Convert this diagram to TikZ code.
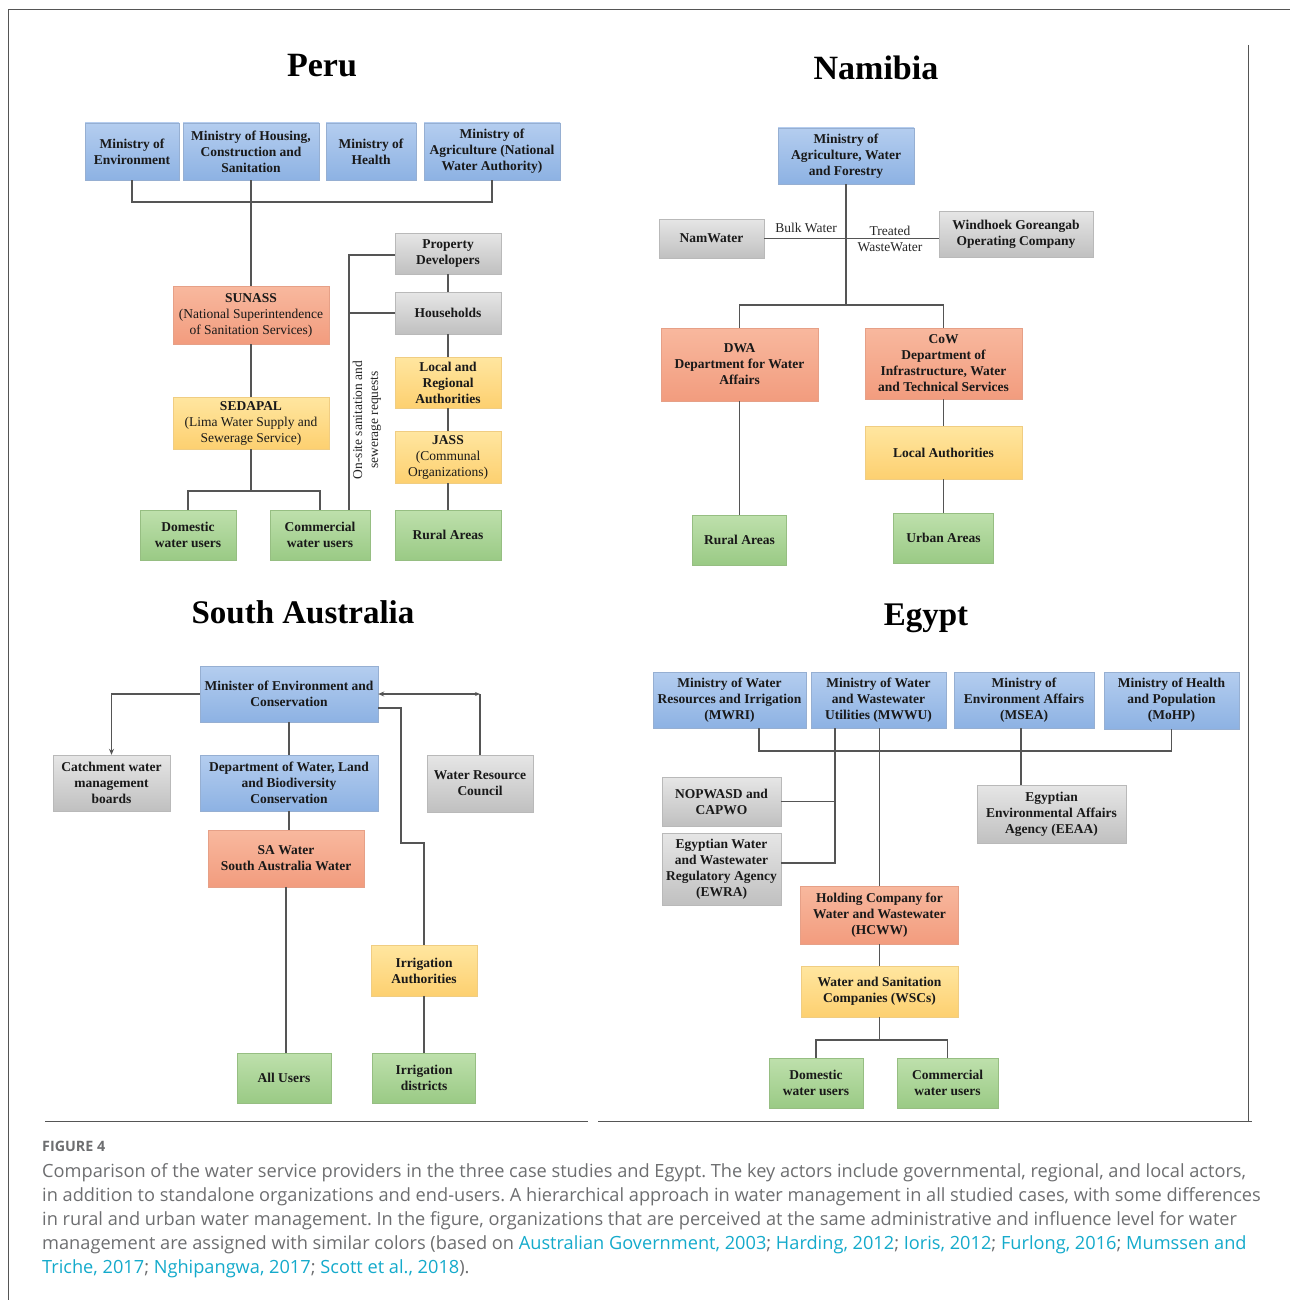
\documentclass[tikz,border=0pt]{standalone}
\usepackage{fontspec}
\setmainfont{Liberation Serif}
\newfontfamily\capfont{Open Sans}
\usetikzlibrary{arrows.meta}
\frenchspacing

\definecolor{capgray}{HTML}{6D6E70}
\definecolor{linkcyan}{HTML}{14AACB}
\definecolor{linegray}{HTML}{555555}
\definecolor{blutop}{RGB}{180,205,239}
\definecolor{blubot}{RGB}{141,178,227}
\definecolor{bluedge}{RGB}{150,175,210}
\definecolor{orgtop}{RGB}{248,184,158}
\definecolor{orgbot}{RGB}{242,156,126}
\definecolor{orgedge}{RGB}{230,160,135}
\definecolor{ylwtop}{RGB}{255,230,160}
\definecolor{ylwbot}{RGB}{253,208,112}
\definecolor{ylwedge}{RGB}{240,205,130}
\definecolor{grytop}{RGB}{230,230,230}
\definecolor{grybot}{RGB}{192,192,192}
\definecolor{gryedge}{RGB}{185,185,185}
\definecolor{grntop}{RGB}{190,224,172}
\definecolor{grnbot}{RGB}{154,202,133}
\definecolor{grnedge}{RGB}{150,190,130}

\begin{document}
\begin{tikzpicture}[x=1pt, y=-1pt,
  box/.style={draw, align=center, inner sep=1pt, text=black!90, font=\fontsize{13.5}{16}\selectfont\bfseries},
  blubox/.style={box, top color=blutop, bottom color=blubot, draw=bluedge},
  orgbox/.style={box, top color=orgtop, bottom color=orgbot, draw=orgedge},
  ylwbox/.style={box, top color=ylwtop, bottom color=ylwbot, draw=ylwedge},
  grybox/.style={box, top color=grytop, bottom color=grybot, draw=gryedge},
  grnbox/.style={box, top color=grntop, bottom color=grnbot, draw=grnedge},
  link/.style={draw=linegray, line width=1.2pt},
  frame/.style={draw=linegray, line width=1pt},
  title/.style={font=\fontsize{34}{40}\selectfont\bfseries},
  note/.style={font=\fontsize{13.5}{16}\selectfont, text=black!85, inner sep=1pt},
  capline/.style={anchor=base west, inner sep=0pt, text=capgray, font=\capfont\fontsize{18.2}{24}\selectfont}]

\useasboundingbox (0,0) rectangle (1290,1300);

% frame
\draw[frame] (8,1300) -- (8,10) -- (1290,10);
\draw[frame] (1248,45) -- (1248,1122);
\draw[frame] (45,1121) -- (588,1121);
\draw[frame] (598,1121) -- (1252,1121);

% Peru
\begin{scope}
\node[title] (tperu) at (322,66) {Peru};

\node[blubox, minimum width=94pt, minimum height=57pt] (mEnv) at (132,151.5) {Ministry of\\Environment};
\node[blubox, minimum width=136pt, minimum height=57pt] (mHous) at (251,151.5) {Ministry of Housing,\\Construction and\\Sanitation};
\node[blubox, minimum width=90pt, minimum height=57pt] (mHlth) at (371,151.5) {Ministry of\\Health};
\node[blubox, minimum width=136pt, minimum height=57pt] (mAgri) at (492,151.5) {Ministry of\\Agriculture (National\\Water Authority)};

\node[orgbox, minimum width=156pt, minimum height=58pt] (sunass) at (251,315) {SUNASS\\\mdseries(National Superintendence\\\mdseries of Sanitation Services)};
\node[ylwbox, minimum width=156pt, minimum height=52pt] (sedapal) at (251,423) {SEDAPAL\\\mdseries(Lima Water Supply and\\\mdseries Sewerage Service)};
\node[grnbox, minimum width=96pt, minimum height=50pt] (pdom) at (188,535) {Domestic\\water users};
\node[grnbox, minimum width=100pt, minimum height=50pt] (pcom) at (320,535) {Commercial\\water users};

\node[grybox, minimum width=106pt, minimum height=41pt] (propdev) at (448,253.5) {Property\\Developers};
\node[grybox, minimum width=106pt, minimum height=42pt] (hhold) at (448,313) {Households};
\node[ylwbox, minimum width=106pt, minimum height=51pt] (lrauth) at (448,382.5) {Local and\\Regional\\Authorities};
\node[ylwbox, minimum width=106pt, minimum height=52pt] (jass) at (448,457) {JASS\\\mdseries(Communal\\\mdseries Organizations)};
\node[grnbox, minimum width=106pt, minimum height=50pt] (prural) at (448,535) {Rural Areas};

\coordinate (pbus) at (251,202);
\coordinate (pfork) at (251,491);
\coordinate (onsite) at (349,255);

\draw[link] (mEnv.south) |- (pbus) -| (mAgri.south);
\draw[link] (mHous.south) -- (sunass.north);
\draw[link] (sunass.south) -- (sedapal.north);
\draw[link] (sedapal.south) -- (pfork);
\draw[link] (pdom.north) |- (pfork) -| (pcom.north);
\draw[link] (pcom.north -| onsite) -- (onsite) -- (onsite -| propdev.west);
\draw[link] (hhold.west) -- (hhold.west -| onsite);
\draw[link] (propdev) -- (hhold) -- (lrauth) -- (jass) -- (prural);
\node[note, rotate=90, align=center] (reqs) at (367,420) {On-site sanitation and\\sewerage requests};
\end{scope}

% Namibia
\begin{scope}
\node[title] (tnam) at (876,68) {Namibia};

\node[blubox, minimum width=136pt, minimum height=56pt] (mawf) at (846,156) {Ministry of\\Agriculture, Water\\and Forestry};
\node[grybox, minimum width=105pt, minimum height=39pt] (namw) at (711.5,238.5) {NamWater};
\node[grybox, minimum width=154pt, minimum height=46pt] (wgoc) at (1016,234) {Windhoek Goreangab\\Operating Company};
\node[orgbox, minimum width=157pt, minimum height=73pt] (dwa) at (739.5,364.5) {DWA\\Department for Water\\Affairs};
\node[orgbox, minimum width=157pt, minimum height=71pt] (cow) at (943.5,363.5) {CoW\\Department of\\Infrastructure, Water\\and Technical Services};
\node[ylwbox, minimum width=157pt, minimum height=53pt] (nlocal) at (943.5,452.5) {Local Authorities};
\node[grnbox, minimum width=94pt, minimum height=50pt] (nrural) at (739.5,540) {Rural Areas};
\node[grnbox, minimum width=100pt, minimum height=50pt] (nurban) at (943.5,538) {Urban Areas};

\coordinate (nbus) at (846,305);

\draw[link] (mawf.south) -- (nbus);
\draw[link] (dwa.north) |- (nbus) -| (cow.north);
\draw[link] (namw.east) -- (namw.east -| nbus);
\draw[link] (wgoc.west |- namw.east) -- (namw.east -| nbus);
\draw[link] (dwa.south) -- (nrural.north);
\draw[link] (cow.south) -- (nlocal.north);
\draw[link] (nlocal.south) -- (nurban.north);
\node[note] (bulk) at (806,228) {Bulk Water};
\node[note] (treat) at (890,231) {Treated};
\node[note] (waste) at (890,247) {WasteWater};
\end{scope}

% South Australia
\begin{scope}
\node[title, font=\fontsize{33}{40}\selectfont\bfseries] (tsa) at (303,612) {South Australia};

\node[blubox, minimum width=178pt, minimum height=56pt] (mec) at (289,694) {Minister of Environment and\\Conservation};
\node[grybox, minimum width=117pt, minimum height=56pt] (cwmb) at (111.5,783) {Catchment water\\management\\boards};
\node[blubox, minimum width=178pt, minimum height=56pt] (dwlbc) at (289,783) {Department of Water, Land\\and Biodiversity\\Conservation};
\node[grybox, minimum width=106pt, minimum height=57pt] (wrc) at (480,783.5) {Water Resource\\Council};
\node[orgbox, minimum width=156pt, minimum height=57pt] (sawat) at (286,858.5) {SA Water\\South Australia Water};
\node[ylwbox, minimum width=106pt, minimum height=51pt] (irra) at (424,970.5) {Irrigation\\Authorities};
\node[grnbox, minimum width=94pt, minimum height=50pt] (allu) at (284,1078) {All Users};
\node[grnbox, minimum width=103pt, minimum height=50pt] (irrd) at (424,1078) {Irrigation\\districts};

\coordinate (sa1) at (401,708);
\coordinate (sa2) at (424,843);

\draw[link, -{Stealth[length=6pt, width=5pt]}] (mec.west) -| (cwmb.north);
\draw[link, {Stealth[length=6pt, width=5pt]}-{Stealth[length=5pt, width=4pt]}] (mec.east) -- (mec.east -| wrc.north);
\draw[link] (wrc.north) -- (mec.east -| wrc.north);
\draw[link] (mec.south) -- (dwlbc.north);
\draw[link] (dwlbc.south) -- (dwlbc.south |- sawat.north);
\draw[link] (sawat.south) -- (sawat.south |- allu.north);
\draw[link] (mec.east |- sa1) -- (sa1) |- (sa2) -- (irra.north);
\draw[link] (irra.south) -- (irrd.north);
\end{scope}

% Egypt
\begin{scope}
\node[title, font=\fontsize{33}{40}\selectfont\bfseries] (tegy) at (926,618) {Egypt};

\node[blubox, minimum width=153pt, minimum height=56pt] (mwri) at (729.5,700) {Ministry of Water\\Resources and Irrigation\\(MWRI)};
\node[blubox, minimum width=135pt, minimum height=56pt] (mwwu) at (878.5,700) {Ministry of Water\\and Wastewater\\Utilities (MWWU)};
\node[blubox, minimum width=140pt, minimum height=56pt] (msea) at (1024,700) {Ministry of\\Environment Affairs\\(MSEA)};
\node[blubox, minimum width=135pt, minimum height=57pt] (mohp) at (1171.5,700.5) {Ministry of Health\\and Population\\(MoHP)};
\node[grybox, minimum width=119pt, minimum height=49pt] (nopw) at (721.5,801.5) {NOPWASD and\\CAPWO};
\node[grybox, minimum width=119pt, minimum height=72pt] (ewra) at (721.5,869) {Egyptian Water\\and Wastewater\\Regulatory Agency\\(EWRA)};
\node[grybox, minimum width=149pt, minimum height=58pt] (eeaa) at (1051.5,814) {Egyptian\\Environmental Affairs\\Agency (EEAA)};
\node[orgbox, minimum width=158pt, minimum height=58pt] (hcww) at (879.5,915) {Holding Company for\\Water and Wastewater\\(HCWW)};
\node[ylwbox, minimum width=157pt, minimum height=51pt] (wscs) at (879.5,991.5) {Water and Sanitation\\Companies (WSCs)};
\node[grnbox, minimum width=94pt, minimum height=50pt] (edom) at (816,1083) {Domestic\\water users};
\node[grnbox, minimum width=101pt, minimum height=50pt] (ecom) at (947.5,1083) {Commercial\\water users};

\coordinate (ebus) at (759,751);
\coordinate (eenv) at (1021,751);
\coordinate (ereg) at (835,863);
\coordinate (efork) at (879.5,1040);

\draw[link] (mwri.south -| ebus) -- (ebus) -- (ebus -| mohp.south) -- (mohp.south);
\draw[link] (eenv |- msea.south) -- (eenv |- eeaa.north);
\draw[link] (mwwu.south -| ereg) -- (ereg) -- (ereg -| ewra.east);
\draw[link] (nopw.east) -- (nopw.east -| ereg);
\draw[link] (mwwu.south -| hcww.north) -- (hcww.north);
\draw[link] (hcww.south) -- (wscs.north);
\draw[link] (wscs.south) -- (efork);
\draw[link] (edom.north) |- (efork) -| (ecom.north);
\end{scope}

% caption
\node[anchor=base west, inner sep=0pt, text=capgray, font=\capfont\bfseries\fontsize{14.3}{16}\selectfont] (fig) at (42,1151) {FIGURE 4};
\node[capline] (cap1) at (42,1177) {Comparison of the water service providers in the three case studies and Egypt. The key actors include governmental, regional, and local actors,};
\node[capline] (cap2) at (42,1201) {in addition to standalone organizations and end-users. A hierarchical approach in water management in all studied cases, with some differences};
\node[capline] (cap3) at (42,1225) {in rural and urban water management. In the figure, organizations that are perceived at the same administrative and influence level for water};
\node[capline] (cap4) at (42,1249) {management are assigned with similar colors (based on \textcolor{linkcyan}{Australian Government, 2003}; \textcolor{linkcyan}{Harding, 2012}; \textcolor{linkcyan}{Ioris, 2012}; \textcolor{linkcyan}{Furlong, 2016}; \textcolor{linkcyan}{Mumssen and}};
\node[capline] (cap5) at (42,1273) {\textcolor{linkcyan}{Triche, 2017}; \textcolor{linkcyan}{Nghipangwa, 2017}; \textcolor{linkcyan}{Scott et al., 2018}).};

\end{tikzpicture}
\end{document}
